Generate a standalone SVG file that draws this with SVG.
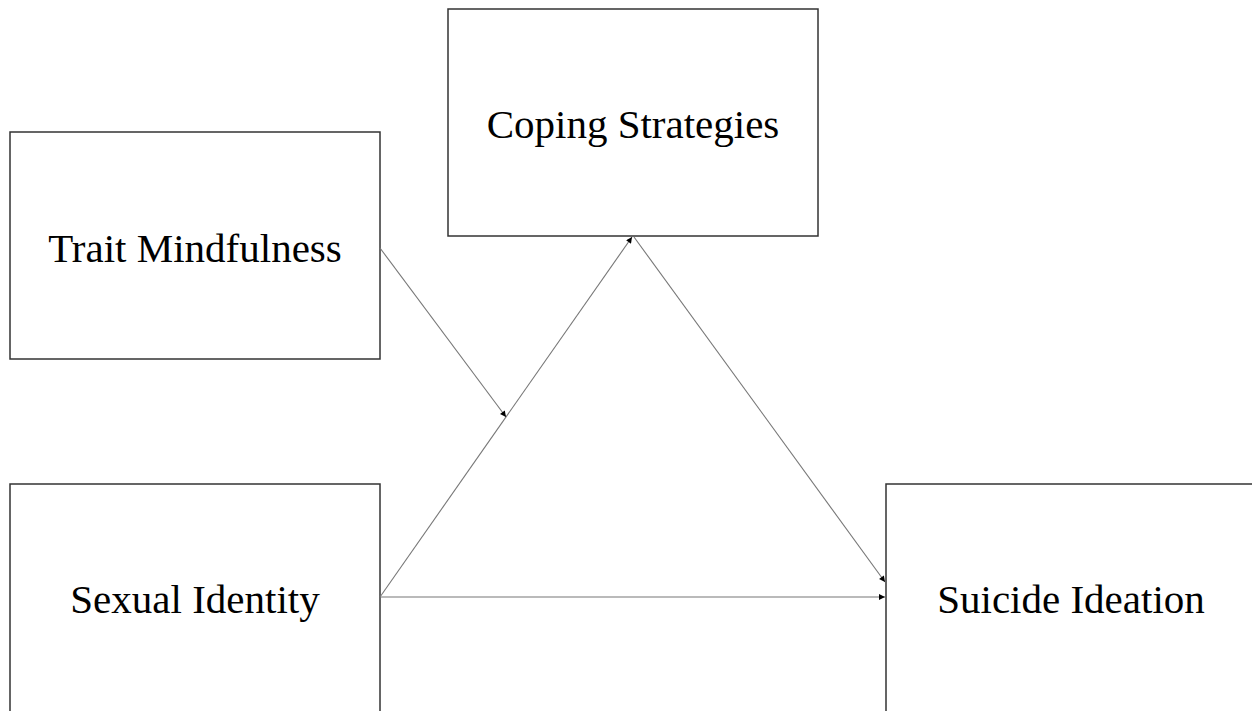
<svg xmlns="http://www.w3.org/2000/svg" width="1252" height="711" viewBox="0 0 1252 711">
<style>
.box{fill:#fff;stroke:#333;stroke-width:1.5}
.lbl{font-family:"Liberation Serif","Times New Roman",serif;font-size:41px;fill:#000;text-anchor:middle}
.edge{stroke:#777;stroke-width:1.1;fill:none;marker-end:url(#ah)}
</style>
<defs>
<marker id="ah" viewBox="0 0 10 10" refX="10" refY="5" markerWidth="7" markerHeight="6" markerUnits="userSpaceOnUse" orient="auto">
<path d="M0,0 L10,5 L0,10 z" fill="#000"/>
</marker>
</defs>
<rect width="1252" height="711" fill="#fff"/>
<g id="node-coping">
<rect class="box" x="448" y="9" width="370" height="227"/>
<text class="lbl" x="633" y="138">Coping Strategies</text>
</g>
<g id="node-trait">
<rect class="box" x="10" y="132" width="370" height="227"/>
<text class="lbl" x="195" y="262">Trait Mindfulness</text>
</g>
<g id="node-sexual">
<rect class="box" x="10" y="484" width="370" height="240"/>
<text class="lbl" x="195" y="613">Sexual Identity</text>
</g>
<g id="node-suicide">
<rect class="box" x="886" y="484" width="380" height="240"/>
<text class="lbl" x="1071" y="613">Suicide Ideation</text>
</g>
<g id="connectors">
<line class="edge" x1="380" y1="597" x2="632" y2="237"/>
<line class="edge" x1="380" y1="248" x2="506" y2="417"/>
<line class="edge" x1="634" y1="237" x2="885" y2="582"/>
<line class="edge" x1="380" y1="597" x2="885" y2="597"/>
</g>
</svg>
